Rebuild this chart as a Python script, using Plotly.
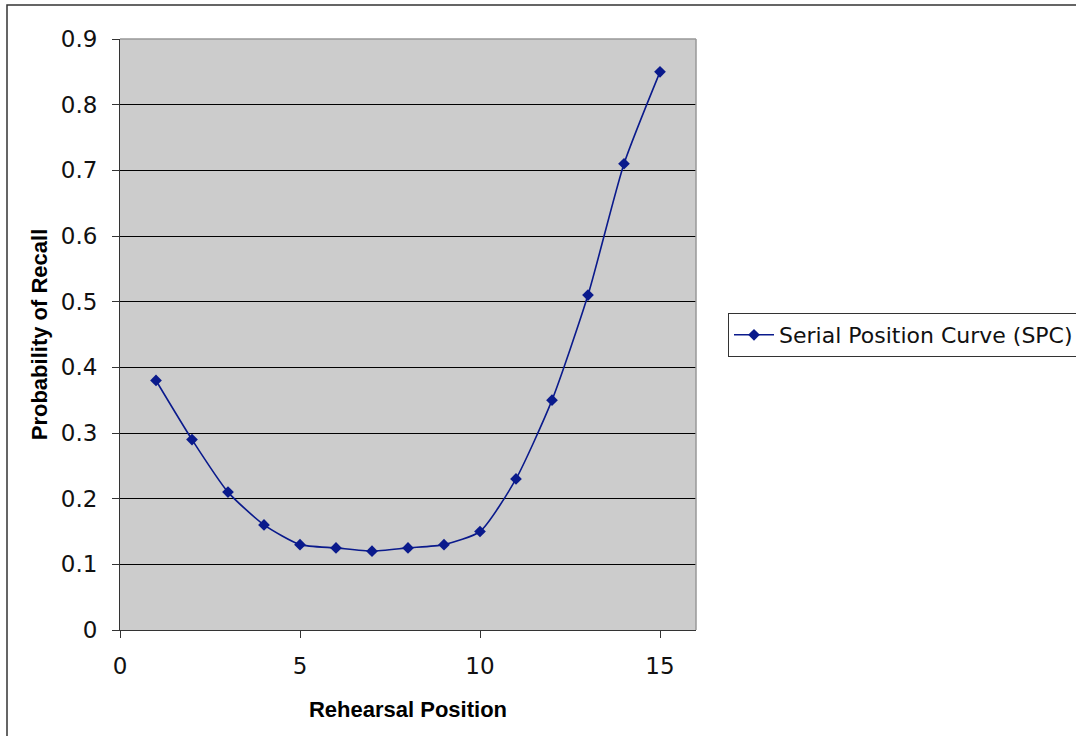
import plotly.graph_objects as go

# Serial position data
rehearsal_position = [1, 2, 3, 4, 5, 6, 7, 8, 9, 10, 11, 12, 13, 14, 15]
recall_probability = [0.38, 0.29, 0.21, 0.16, 0.13, 0.125, 0.12, 0.125, 0.13,
                      0.15, 0.23, 0.35, 0.51, 0.71, 0.85]
series_name = "Serial Position Curve (SPC)"
x_ticks = [0, 5, 10, 15]
y_ticks = [0, 0.1, 0.2, 0.3, 0.4, 0.5, 0.6, 0.7, 0.8, 0.9]
y_tick_text = ["0", "0.1", "0.2", "0.3", "0.4", "0.5", "0.6", "0.7", "0.8", "0.9"]

W, H = 1076, 736
L, R, T, B = 120, 380, 39, 106
plot_w = W - L - R
plot_h = H - T - B


def px_x(px):
    return (px - L) / plot_w


def px_y(py):
    return (H - B - py) / plot_h


navy = "#0a1a8c"
tick_font = dict(size=23, family="DejaVu Sans, Lucida Grande, sans-serif", color="#111111")
title_font = dict(size=22, family="Liberation Sans, Arial, sans-serif", color="black")

fig = go.Figure()
fig.add_trace(go.Scatter(
    x=rehearsal_position,
    y=recall_probability,
    mode="lines+markers",
    name=series_name,
    line=dict(color=navy, width=1.6, shape="spline", smoothing=0.6),
    marker=dict(symbol="diamond", size=9, color=navy),
))

fig.update_layout(
    width=W, height=H,
    margin=dict(l=L, r=R, t=T, b=B, autoexpand=False),
    paper_bgcolor="white",
    plot_bgcolor="#cccccc",
    font=dict(family="DejaVu Sans, Lucida Grande, sans-serif", color="black"),
    showlegend=True,
    legend=dict(
        xref="container", yref="container",
        x=728 / W, y=(H - 335) / H, xanchor="left", yanchor="middle",
        bgcolor="white", bordercolor="#333333", borderwidth=1,
        font=dict(size=22, family="DejaVu Sans, sans-serif", color="#111111"),
        itemwidth=40,
    ),
    xaxis=dict(
        range=[0, 16], tickvals=x_ticks, ticks="outside", ticklen=7,
        tickcolor="#333333", showline=True, linecolor="#333333", linewidth=1,
        showgrid=False, zeroline=False, mirror=False,
        tickfont=tick_font, ticklabelstandoff=8,
        title=dict(text="<b>Rehearsal Position</b>", font=title_font, standoff=24),
    ),
    yaxis=dict(
        range=[0, 0.9], tickvals=y_ticks, ticktext=y_tick_text,
        ticks="outside", ticklen=7, tickcolor="#333333",
        showline=True, linecolor="#333333", linewidth=1,
        showgrid=True, gridcolor="black", gridwidth=1, zeroline=False,
        tickfont=tick_font, ticklabelstandoff=10,
        title=dict(text="<b>Probability of Recall</b>", font=title_font, standoff=7),
    ),
    shapes=[
        # gray frame on the top and right edges of the plot area
        dict(type="line", xref="paper", yref="paper", x0=0, x1=1, y0=1, y1=1,
             line=dict(color="#999999", width=1.5)),
        dict(type="line", xref="paper", yref="paper", x0=1, x1=1, y0=0, y1=1,
             line=dict(color="#999999", width=1.5)),
        # outer chart border
        dict(type="rect", xref="paper", yref="paper",
             x0=px_x(7), x1=px_x(1090), y0=px_y(750), y1=px_y(5),
             line=dict(color="#333333", width=1.5), layer="below"),
    ],
)

fig.write_html("out.html")
